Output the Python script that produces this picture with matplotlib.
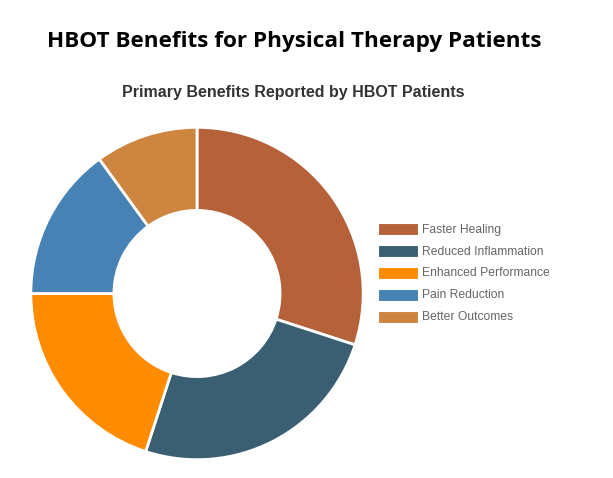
import matplotlib
matplotlib.use("Agg")
import matplotlib.pyplot as plt
from matplotlib.patches import Rectangle

labels = ["Faster Healing", "Reduced Inflammation", "Enhanced Performance",
          "Pain Reduction", "Better Outcomes"]
values = [30, 25, 20, 15, 10]
colors = ["#B5623A", "#3A5F73", "#FF8C00", "#4682B4", "#CD853F"]

W, H = 613, 478
fig = plt.figure(figsize=(W / 100, H / 100), dpi=100)
fig.patch.set_facecolor("white")

# donut: centre (197, 293) px, outer radius ~166 px
cx, cy, r = 197, 293.5, 167
ax = fig.add_axes([(cx - r) / W, (H - cy - r) / H, 2 * r / W, 2 * r / H])
ax.pie(values, colors=colors, startangle=90, counterclock=False, radius=1,
       wedgeprops=dict(width=0.5, edgecolor="white", linewidth=2))
ax.set_xlim(-1.005, 1.005)
ax.set_ylim(-1.005, 1.005)
ax.set_aspect("equal")
ax.axis("off")

fig.text(294 / W, 1 - 42 / H, "HBOT Benefits for Physical Therapy Patients",
         ha="center", va="center", fontsize=16.2, fontweight="bold",
         family="Open Sans", color="black")
fig.text(293 / W, 1 - 92 / H, "Primary Benefits Reported by HBOT Patients",
         ha="center", va="center", fontsize=11.5, fontweight="bold",
         family="Liberation Sans", color="#333333")

# legend
for i, (lab, col) in enumerate(zip(labels, colors)):
    y = 229 + 22 * i
    fig.patches.append(Rectangle((378 / W, 1 - (y + 6) / H), 40 / W, 12 / H,
                                 transform=fig.transFigure, facecolor=col,
                                 edgecolor="white", linewidth=0.8))
    fig.text(422 / W, 1 - (y + 0.5) / H, lab, ha="left", va="center",
             fontsize=8.7, family="Liberation Sans", color="#666666")

fig.savefig("out.png", dpi=100)
